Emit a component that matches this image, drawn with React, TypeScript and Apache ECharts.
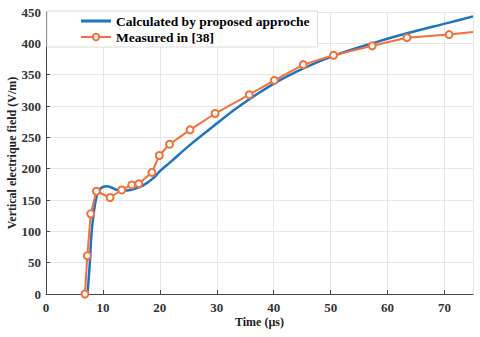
import React, { useEffect, useRef } from "react";
import * as echarts from "echarts";

const calcX = [7.3, 7.7, 8.0, 8.4, 8.8, 9.3, 10.0, 10.7, 11.5, 12.5, 13.6, 15.0, 16.3, 17.7, 19.0, 20.0, 21.8, 25.3, 29.7, 34.0, 40.1, 45.2, 50.5, 57.3, 63.4, 70.8, 75.0];
const calcY = [0, 50, 97, 130, 152, 165, 171, 172, 170, 166, 165, 166.5, 170, 177, 186, 196, 210, 238, 270, 300, 336, 360, 380, 400, 416, 433, 443];

const measX = [6.85, 7.26, 7.85, 8.85, 11.25, 13.3, 15.06, 16.3, 18.6, 19.9, 21.7, 25.3, 29.7, 35.7, 40.1, 45.2, 50.5, 57.3, 63.4, 70.8, 75.0];
const measY = [0, 61, 128, 164, 154, 166, 174, 176, 194, 221, 239, 262, 288, 318, 341, 366, 381, 396, 409, 414, 418];

const xTicksMin = 0;
const xTicksMax = 75;
const yTicksMin = 0;
const yTicksMax = 450;

const FONT = "'Liberation Serif', 'Times New Roman', serif";

export default function App() {
  const ref = useRef<HTMLDivElement>(null);
  useEffect(() => {
    if (!ref.current) return;
    const chart = echarts.init(ref.current, undefined, { renderer: "svg" });
    const calcData = calcX.map((x, i) => [x, calcY[i]]);
    const measData = measX.map((x, i) =>
      i === measX.length - 1 ? { value: [x, measY[i]], symbol: "none" } : [x, measY[i]]
    );
    chart.setOption({
      animation: false,
      backgroundColor: "#ffffff",
      textStyle: { fontFamily: FONT },
      grid: { left: 46, right: 7, top: 12, bottom: 43, containLabel: false, outerBoundsMode: "none" },
      legend: {
        orient: "vertical",
        left: 47,
        top: 11,
        padding: [3, 8, 3, 33],
        itemGap: 2,
        itemWidth: 30,
        itemHeight: 8,
        backgroundColor: "#ffffff",
        borderColor: "#dcdcdc",
        borderWidth: 1,
        textStyle: { fontFamily: FONT, fontWeight: "bold", fontSize: 13.5, color: "#000" },
        data: [
          { name: "Calculated by proposed approche", icon: "path://M0,0 L30,0 L30,3 L0,3 Z", itemStyle: { color: "#1f74bf" } },
          { name: "Measured in [38]" },
        ],
      },
      xAxis: {
        type: "value",
        min: xTicksMin,
        max: xTicksMax,
        interval: 10,
        name: "Time (µs)",
        nameLocation: "middle",
        nameGap: 22,
        nameMoveOverlap: false,
        nameTextStyle: { fontFamily: FONT, fontWeight: "bold", fontSize: 12, color: "#222" },
        axisLine: { show: true, lineStyle: { color: "#444", width: 1 } },
        axisTick: { show: true, inside: true, length: 4, lineStyle: { color: "#444" } },
        axisLabel: { showMaxLabel: false, margin: 7, fontFamily: FONT, fontWeight: "bold", fontSize: 13, color: "#333" },
        splitLine: { show: true, lineStyle: { color: "#e6e6e6", width: 1 } },
      },
      yAxis: {
        type: "value",
        min: yTicksMin,
        max: yTicksMax,
        interval: 50,
        name: "Vertical electrique field (V/m)",
        nameLocation: "middle",
        nameGap: 28,
        nameMoveOverlap: false,
        nameTextStyle: { fontFamily: FONT, fontWeight: "bold", fontSize: 12, color: "#222" },
        axisLine: { show: true, lineStyle: { color: "#444", width: 1 } },
        axisTick: { show: true, inside: true, length: 4, lineStyle: { color: "#444" } },
        axisLabel: { margin: 5, fontFamily: FONT, fontWeight: "bold", fontSize: 13, color: "#333" },
        splitLine: { show: true, lineStyle: { color: "#e6e6e6", width: 1 } },
      },
      series: [
        {
          name: "Calculated by proposed approche",
          type: "line",
          data: calcData,
          smooth: 0.35,
          showSymbol: false,
          symbol: "none",
          lineStyle: { color: "#1f74bf", width: 2.5 },
          itemStyle: { color: "#1f74bf" },
          z: 2,
        },
        {
          name: "Measured in [38]",
          type: "line",
          data: measData,
          smooth: false,
          symbol: "circle",
          symbolSize: 7,
          lineStyle: { color: "#f4703a", width: 2 },
          itemStyle: { color: "#ffffff", borderColor: "#f4703a", borderWidth: 2 },
          z: 3,
        },
      ],
    });
    return () => chart.dispose();
  }, []);
  return <div ref={ref} style={{ width: 480, height: 337, position: "absolute", left: 0, top: 0 }} />;
}
